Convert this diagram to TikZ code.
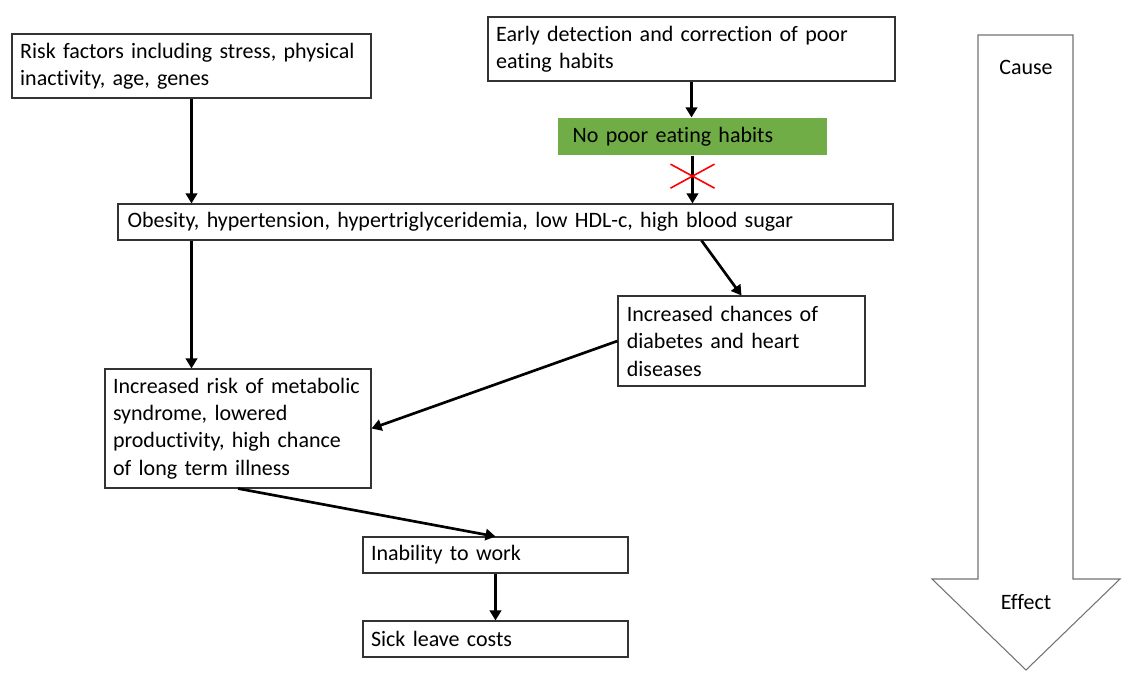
\documentclass[tikz,border=0pt]{standalone}
\usepackage{fontspec}
\setmainfont{Carlito}[Ligatures=NoCommon]
\usepackage{xcolor}
\usetikzlibrary{arrows.meta}
\definecolor{leafgreen}{RGB}{112,173,71}

\begin{document}
\begin{tikzpicture}[x=0.75pt,y=-0.75pt,
  box/.style={draw=black!80,line width=0.8pt,fill=white,align=left,inner xsep=6pt,
              inner ysep=0pt,font=\fontsize{16.5}{20.6}\selectfont},
  arr/.style={-{Triangle[length=7.5pt,width=8.5pt]},line width=2pt,black}]
  \useasboundingbox (0,0) rectangle (1140,675);
  % cause / effect arrow
  \draw[black!55,line width=0.8pt,fill=white] (978,35)--(1073,35)--(1073,579)--(1120,579)
       --(1026,670)--(932,579)--(978,579)--cycle;
  \node[font=\fontsize{16.5}{20.6}\selectfont](cause) at (1026,67) {Cause};
  \node[font=\fontsize{16.5}{20.6}\selectfont](effect) at (1026,602) {Effect};
  % boxes
  \node[box,minimum width=269.25pt,minimum height=48pt,text width=257pt](risk) at (191.5,66)
       {Risk factors including stress, physical\\inactivity, age, genes};
  \node[box,minimum width=305.25pt,minimum height=48pt,text width=293pt](early) at (691.5,49)
       {Early detection and correction of poor\\eating habits};
  \node[box,draw=none,fill=leafgreen,inner xsep=11pt,minimum width=201.75pt,minimum height=27.75pt,
        text width=179.75pt](green) at (692.5,136.5) {No poor eating habits};
  \node[box,minimum width=581.25pt,minimum height=27pt,text width=567pt,inner xsep=7pt](obes) at (505.5,222)
       {Obesity, hypertension, hypertriglyceridemia, low HDL-c, high blood sugar};
  \node[box,minimum width=185.25pt,minimum height=67.5pt,text width=172pt,inner xsep=6.5pt](chances) at (741.5,341)
       {Increased chances of\\diabetes and heart\\diseases};
  \node[box,minimum width=199.5pt,minimum height=89.25pt,text width=187.5pt](riskm) at (238,428.5)
       {Increased risk of metabolic\\syndrome, lowered\\productivity, high chance\\of long term illness};
  \node[box,minimum width=198.75pt,minimum height=27pt,text width=186.75pt](inab) at (495.5,555)
       {Inability to work};
  \node[box,minimum width=198.75pt,minimum height=27pt,text width=186.75pt](sick) at (495.5,639)
       {Sick leave costs};
  % connectors
  \draw[arr](risk.south)--(risk.south|-obes.north);
  \draw[arr](early.south)--(early.south|-green.north);
  \draw[arr](green.south)--coordinate[pos=0.43](cut)(green.south|-obes.north);
  \draw[red,line width=1.2pt]([shift={(-22,-12)}]cut)--([shift={(22,12)}]cut)
       ([shift={(-22,12)}]cut)--([shift={(22,-12)}]cut);
  \draw[arr]([xshift=147pt]obes.south)--(chances.north);
  \draw[arr](obes.south-|risk.south)--(riskm.north-|risk.south);
  \draw[arr](chances.west)--(riskm.east);
  \draw[arr](riskm.south)--(inab.north);
  \draw[arr](inab.south)--(sick.north);
\end{tikzpicture}
\end{document}
